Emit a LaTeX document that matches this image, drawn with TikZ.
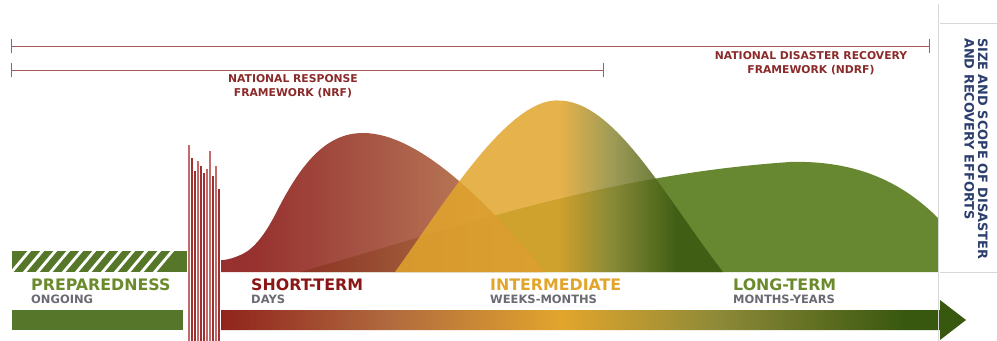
\documentclass[tikz,border=0pt]{standalone}
\usepackage{fontspec}
\setmainfont{DejaVu Sans}
\usetikzlibrary{arrows.meta}
\definecolor{frameRed}{HTML}{8B2A2A}
\definecolor{bracketRed}{HTML}{A65A5A}
\definecolor{prepGreen}{HTML}{56772A}
\definecolor{prepText}{HTML}{6B8A2C}
\definecolor{spanGray}{HTML}{6A6A72}
\definecolor{shortRed}{HTML}{8A1616}
\definecolor{shortMid}{HTML}{9C4230}
\definecolor{shortBrown}{HTML}{B06A3E}
\definecolor{shortTan}{HTML}{C08450}
\definecolor{interGold}{HTML}{E2A52C}
\definecolor{oliveMid}{HTML}{8E8A38}
\definecolor{longGreen}{HTML}{5F8226}
\definecolor{longDark}{HTML}{39580F}
\definecolor{scopeBlue}{HTML}{2C3E6E}
\definecolor{panelGray}{HTML}{D8D8D8}
\definecolor{spikeLight}{HTML}{C46A6A}
\definecolor{spikeDark}{HTML}{A03030}
\pgfdeclarehorizontalshading{timelineshade}{100bp}{color(0bp)=(shortRed); color(25bp)=(shortRed); color(38bp)=(shortBrown); color(49bp)=(interGold); color(59bp)=(oliveMid); color(71bp)=(longDark); color(100bp)=(longDark)}
\pgfdeclarehorizontalshading{shortshade}{100bp}{color(0bp)=(shortRed); color(25bp)=(shortRed); color(35bp)=(shortRed!85!shortMid); color(50bp)=(shortMid); color(75bp)=(shortTan); color(100bp)=(shortTan)}
\pgfdeclarehorizontalshading{intershade}{100bp}{color(0bp)=(interGold); color(25bp)=(interGold); color(50bp)=(interGold); color(58bp)=(oliveMid); color(68bp)=(longDark); color(100bp)=(longDark)}

\begin{document}
\begin{tikzpicture}[x=0.3mm,y=-0.3mm,
        bracket/.style={draw=bracketRed,line width=0.6pt,{Bar[width=4.4mm]}-{Bar[width=4.4mm]}},
        framelabel/.style={anchor=north,align=center,inner sep=0pt,text=frameRed,
                    font=\bfseries\fontsize{9.2}{12.2}\selectfont},
        stagename/.style={anchor=base west,inner sep=0pt,font=\bfseries\fontsize{13.5}{14}\selectfont},
        stagespan/.style={anchor=base west,inner sep=0pt,text=spanGray,font=\bfseries\fontsize{9.8}{10}\selectfont}]
        \useasboundingbox (0,0) rectangle (997,341);
        \coordinate (ndrfstart) at (11,46);
        \coordinate (ndrfend) at (930,46);
        \coordinate (nrfstart) at (11,70);
        \coordinate (nrfend) at (604,70);
        \draw[bracket] (ndrfstart) -- (ndrfend);
        \draw[bracket] (nrfstart) -- (nrfend);
        \node[framelabel] (nrf) at (293,74) {NATIONAL RESPONSE\\FRAMEWORK (NRF)};
        \node[framelabel] (ndrf) at (811,51) {NATIONAL DISASTER RECOVERY\\FRAMEWORK (NDRF)};
        \fill[prepGreen] (12,251) rectangle (187,272);
        \begin{scope}
          \clip (12,251) rectangle (187,272);
          \foreach \s in {0,...,11}
            \draw[white,line width=0.85mm] (10+\s*13,274) -- (31+\s*13,249);
        \end{scope}
        \fill[longGreen,fill opacity=0.95] (300,272) .. controls (450,230) and (600,175) .. (790,162)
              .. controls (860,160) and (905,185) .. (938,218) -- (938,272) -- cycle;
        \shade[shading=shortshade,fill opacity=0.9] (187,251)
              .. controls (203,262) and (222,263) .. (238,256)
              .. controls (250,252) and (262,240) .. (275,215)
              .. controls (300,165) and (325,133) .. (363,133)
              .. controls (420,133) and (490,205) .. (545,272) -- (187,272) -- cycle;
        \shade[shading=intershade,fill opacity=0.85] (395,272)
              .. controls (440,210) and (500,110) .. (550,101)
              .. controls (610,92) and (660,190) .. (723,272) -- cycle;
        \node[stagename,text=prepText] (prep) at (31,290) {PREPAREDNESS};
        \node[stagespan] (prepspan) at (31,303) {ONGOING};
        \node[stagename,text=shortRed] (short) at (251,290) {SHORT-TERM};
        \node[stagespan] (shortspan) at (251,303) {DAYS};
        \node[stagename,text=interGold] (inter) at (490,290) {INTERMEDIATE};
        \node[stagespan] (interspan) at (490,303) {WEEKS-MONTHS};
        \node[stagename,text=prepText] (long) at (733,290) {LONG-TERM};
        \node[stagespan] (longspan) at (733,303) {MONTHS-YEARS};
        \fill[prepGreen] (12,310) rectangle (183,330);
        \shade[shading=timelineshade] (187,310) -- (940,310) -- (940,300) -- (966,320)
              -- (940,340) -- (940,330) -- (187,330) -- cycle;
        \foreach \x/\t/\c in {187/144/spikeLight,190/157/spikeDark,193/170/spikeDark,196/160/spikeLight,
                              199/165/spikeDark,202/172/spikeDark,205/168/spikeLight,208/150/spikeLight,
                              211/175/spikeDark,214/165/spikeLight,217/188/spikeDark}
          \filldraw[fill=\c,draw=white,line width=0.25pt] (\x,\t) rectangle (\x+3,341);
        \draw[panelGray,line width=0.8pt] (938,4) -- (938,341);
        \draw[panelGray,line width=0.8pt] (940,23) -- (997,23);
        \draw[panelGray,line width=0.8pt] (940,272) -- (997,272);
        \node[rotate=-90,anchor=north west,align=left,inner sep=0pt,text=scopeBlue,
              font=\bfseries\fontsize{11}{11.5}\selectfont] (scope) at (988,38)
              {SIZE AND SCOPE OF DISASTER\\AND RECOVERY EFFORTS};
      \end{tikzpicture}
\end{document}
